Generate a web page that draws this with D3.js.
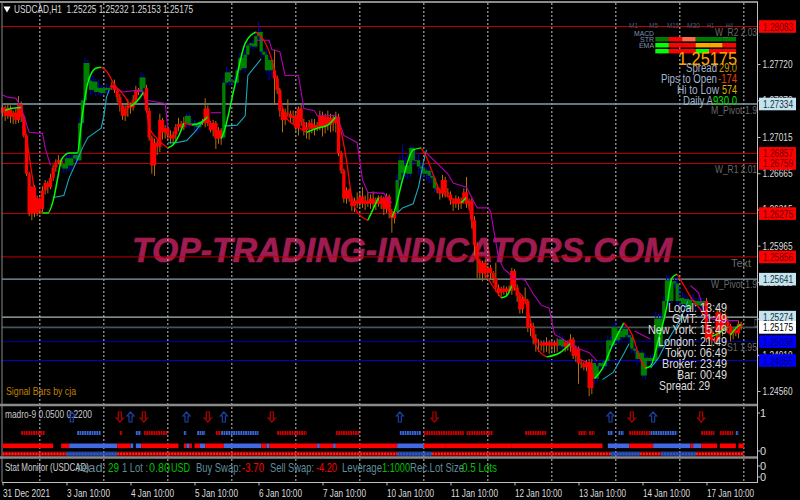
<!DOCTYPE html>
<html><head><meta charset="utf-8">
<script src="https://cdn.jsdelivr.net/npm/d3@7"></script>
<style>html,body{margin:0;padding:0;background:#000}svg{display:block}text{font-family:"Liberation Sans Narrow","Liberation Sans",Arial,sans-serif}</style>
</head><body><div id="chart"></div>
<script>
// ---- DATA (prices in pips: 12772 = 1.2772) ----
const firstOpen = 12725;
const closes = [
12730,12722,12729,12721,12725,12718,12733,12721,12703,12666,12628,12653,12628,12642,
12632,12650,12657,12653,12662,12672,12677,12679,12676,12671,12681,12674,12681,12684,12679,12715,12737,12773,12756,12747,12755,12745,12749,12744,12749,12747,12749,12752,12747,12740,12732,12722,12729,12732,12730,12737,12747,12745,12759,12749,12727,12701,12674,12696,12692,12718,12706,12710,12703,12700,12704,12711,12714,12711,12715,12722,12714,12715,12713,12711,12716,12715,12729,12715,12708,12715,12700,12708,12701,12754,12764,12755,12756,12754,12766,12778,12768,12781,12790,12792,12789,12799,12803,12784,12781,12766,12776,
12766,12758,12747,12727,12718,12725,12724,12720,12722,12710,12729,12716,12708,12711,12715,12709,12713,12711,12722,12711,12721,12713,12720,12715,12721,12686,12669,12642,12650,12642,12635,12640,12637,12644,12637,12640,12637,12642,12637,12640,12637,12642,12632,12644,12630,12623,12629,12660,12679,12667,12674,12666,12691,12679,12679,12673,12671,12666,12669,12664,12662,12652,12650,12647,12660,12648,12646,12640,12637,12642,12637,12640,12648,12637,12640,12621,12597,12582,12570,12580,12570,12575,12570,12565,12556,12551,12555,12552,12555,12553,12572,12556,12548,12535,12545,12543,12517,12519,12507,12503,12502,12500,12503,12500,12503,12500,12503,12500,12506,12499,12503,12499,12506,12490,12497,12483,12482,12479,12484,12459,12483,12468,12480,12483,12480,12485,12505,12500,12518,12505,12514,12508,12516,12510,12508,12497,12495,12487,12493,12471,12488,12485,12488,12485,12526,12498,12526,12543,12563,12543,12562,12560,12543,12546,12540,12545,12535,12544,12543,12539,12543,12538,12543,12507,12514,12505,12505,12532,12514,12529,12523,12519,12512,12515,12512,12521,12519];
const wickUp = [
3,2,4,3,2,4,8,3,2,1,2,1,2,3,1,4,3,2,4,3,3,5,2,3,
6,3,5,4,3,5,2,5,3,4,6,3,8,3,2,4,2,3,5,2,3,2,3,6,
3,5,4,2,5,3,3,3,2,4,3,6,2,3,2,5,3,3,6,3,6,2,3,4,
3,2,2,3,10,3,2,3,2,3,2,4,5,3,2,4,3,5,3,5,3,2,3,4,
10,2,3,4,2,3,20,3,2,3,4,13,3,5,4,2,4,3,5,3,4,6,3,5,
4,3,6,4,3,5,3,2,2,3,2,2,3,8,4,9,5,8,4,7,3,5,3,2,
3,2,2,3,6,5,15,8,12,2,2,9,7,4,5,3,4,6,3,4,2,5,3,4,
3,2,3,2,3,4,15,2,3,4,3,2,2,3,2,3,2,15,3,2,3,2,3,3,
2,3,2,3,11,2,3,3,4,3,3,2,5,2,3,2,4,6,3,2,2,5,2,3,
2,3,2,2,3,4,3,2,3,3,2,5,4,3,6,3,2,5,3,4,2,3,3,2,
3,4,2,3,4,7,5,6,4,5,4,3,3,6,12,5,4,3,5,6,3,4,3,3,
3,2,4,3,4,3,2,3,3,2,2,3,3,2];
const wickDown = [
4,5,3,6,7,4,3,5,2,2,3,7,4,3,5,3,4,6,2,3,4,2,3,4,
3,5,6,3,4,2,3,2,3,5,2,4,3,3,2,3,4,2,3,5,6,4,5,8,
6,3,2,3,3,4,2,3,8,10,8,5,7,6,4,5,6,8,4,3,3,5,4,2,
5,6,3,2,4,3,2,6,10,5,7,3,2,3,4,2,2,3,2,4,2,3,3,2,
3,4,2,3,10,7,25,4,6,12,5,3,4,6,3,7,4,5,8,12,4,6,4,3,
9,6,5,7,8,9,3,3,4,5,3,5,6,4,3,4,6,3,5,4,6,3,5,6,
4,7,14,5,3,4,3,5,6,3,5,4,8,4,5,6,7,5,4,3,6,4,5,3,
4,7,4,6,5,3,4,6,8,10,17,6,8,5,4,6,5,4,3,5,3,4,2,4,
3,6,4,4,3,4,8,6,9,8,5,7,6,8,5,7,6,4,3,5,4,5,3,6,
20,4,3,4,8,6,5,3,2,4,3,5,2,3,4,3,3,2,3,4,5,3,6,4,
2,4,3,5,3,4,3,2,3,3,4,3,5,4,6,3,4,5,3,4,5,3,4,3,
4,3,6,3,5,8,5,4,7,8,6,3,5,4];
const upBarRuns = [[23,40],[52,53],[69,74],[83,101],[148,162],[209,210],[222,263]];

const fastBars = [1,3,7,9,11,13,15,17,19,21,22,25,28,30,32,35,37,39,42,46,48,50,53,54,55,58,62,64,67,68,71,74,77,79,82,83,87,91,95,98,100,101,103,105,107,111,114,118,122,125,126,129,131,133,137,139,141,143,145,146,147,150,154,157,159,162,164,168,172,174,175,176,178,182,187,189,191,193,196,198,199,200,204,209,213,216,220,221,222,225,229,233,236,239,241,243,246,249,251,253,256,259,262,266,268,271,273,276,277];
const fastPips = [12727,12729,12730,12701,12666,12637,12628,12628,12640,12666,12679,12686,12686,12724,12754,12768,12769,12765,12752,12740,12731,12735,12745,12730,12711,12700,12691,12694,12708,12715,12713,12715,12721,12710,12700,12706,12750,12792,12803,12795,12784,12776,12754,12730,12718,12711,12706,12710,12713,12721,12716,12679,12643,12629,12621,12632,12643,12642,12630,12624,12630,12660,12689,12691,12682,12662,12650,12643,12638,12643,12633,12621,12585,12565,12546,12548,12558,12553,12543,12524,12511,12500,12489,12493,12502,12488,12482,12475,12468,12478,12502,12522,12511,12488,12478,12480,12506,12536,12565,12569,12556,12543,12534,12509,12511,12517,12510,12519,12520];

const magentaBars = [
 [0,2,5,7,10,15,16,18],
 [42,45,52,54,61,62],
 [78,82],
 [95,100,101,104,106,111,113,117,118,125,126,128,133,135,137,143,145,146],
 [159,163,167,169,174,178,182,183,186,188,192,196,199,202,205,207,216,220,223],
 [237,243],
 [258,261,264,269,276]];
const magentaPips = [
 [12742,12740,12739,12730,12706,12705,12691,12674],
 [12750,12745,12747,12737,12734,12710],
 [12725,12725],
 [12795,12795,12786,12784,12761,12761,12729,12727,12722,12722,12718,12703,12696,12660,12648,12647,12640,12638],
 [12686,12676,12666,12657,12653,12633,12633,12630,12585,12574,12565,12563,12550,12539,12536,12511,12497,12493,12485],
 [12514,12506],
 [12558,12551,12527,12524,12524]];
const cyanBars = [
 [19,23,25,28,30,32,37,38,39,40],
 [62,65,69,72,75],
 [83,88,91,92,97],
 [148,150,154,156,158,159],
 [225,229,233,235],
 [243,246,249,254,257]];
const cyanPips = [
 [12643,12645,12662,12679,12691,12701,12710,12722,12740,12747],
 [12696,12696,12698,12706,12716],
 [12712,12713,12722,12761,12777],
 [12628,12633,12637,12653,12679,12689],
 [12467,12474,12492,12502],
 [12478,12488,12503,12524,12543]];

const redLevels = [1.28083,1.26857,1.26759,1.26275,1.25856];
const pivotLevels = [1.27334,1.25641];
const supportLevels = [1.25038,1.24855];
const resistanceLight = 1.25274;
const bidLevel = 1.25175;
const priceTicks = [1.27720,1.27370,1.27015,1.26665,1.26315,1.25965,1.25615,1.25260,1.24910,1.24560];
const timeTickBars = [0,24,48,72,96,120,144,168,192,216,240,264];
const timeTickLabels = ["31 Dec 2021","3 Jan 10:00","4 Jan 10:00","5 Jan 10:00","6 Jan 10:00","7 Jan 10:00","10 Jan 10:00","11 Jan 10:00","12 Jan 10:00","13 Jan 10:00","14 Jan 10:00","17 Jan 10:00"];
const timeTickWidths = [47,43,43,43,43,43,47,47,47,47,47,47];
const daySeparatorBars = [14,38,62,86,110,134,158,182,206,230,254,278];

const arrowBars = [26,44,48,53,69,77,83,101,149,162,228,236,244,262];
const arrowDirs = ["u","d","u","d","u","d","u","d","u","d","u","d","u","d"];
const dotRuns = [[7,16,"r"],[28,37,"b"],[44,45,"r"],[50,52,"b"],[53,62,"r"],[68,69,"b"],[73,76,"b"],[80,82,"r"],[82,96,"b"],[103,114,"r"],[125,134,"r"],[149,157,"b"],[158,173,"r"],[174,184,"r"],[196,204,"r"],[216,219,"r"],[220,222,"r"],[227,229,"b"],[231,233,"b"],[235,243,"r"],[243,253,"b"],[262,267,"r"],[269,274,"r"],[275,276,"b"]];
const solidRuns = [[0,19,"r"],[22,25,"r"],[25,43,"b"],[43,48,"r"],[48,49,"b"],[50,52,"b"],[52,66,"r"],[68,69,"r"],[69,70,"b"],[70,71,"r"],[72,74,"r"],[74,76,"b"],[76,83,"r"],[83,97,"b"],[97,99,"r"],[99,100,"b"],[100,118,"r"],[118,119,"b"],[119,124,"r"],[124,125,"b"],[125,148,"r"],[148,158,"b"],[158,166,"r"],[166,191,"r"],[191,225,"r"],[227,235,"b"],[235,244,"r"],[244,258,"b"],[258,259,"r"],[259,262,"b"],[262,268,"r"],[269,275,"r"],[276,278,"r"]];
const hatchRuns = [[0,24,"r"],[24,43,"b"],[43,148,"r"],[148,161,"b"],[161,228,"r"],[228,239,"b"],[239,247,"r"],[247,260,"b"],[260,278,"r"]];

const headerText = "USDCAD,H1  1.25225 1.25232 1.25153 1.25175";
const tfLabels = ["M1","M5","M15","M30","H1","H4"];
const rowLabels = ["MACD","STR","EMA"];
const cellColors = [
 ["#007a00","#ff0000","#ff6a4d","#007a00","#007a00","#007a00"],
 ["#00ff00","#ff0000","#ff0000","#ffa500","#ffa500","#ff0000"],
 ["#00ff00","#ff0000","#ff0000","#00ff00","#ff0000","#ff0000"]];
const clockLabels = ["Local: 13:49","GMT: 21:49","New York: 15:49","London: 21:49","Tokyo: 06:49","Broker: 23:49","Bar: 00:49","Spread: 29"];
const infoLabels = ["Spread","29.0","Pips to Open","-174","Hi to Low","574","Daily A","930.0"];
const statLabels = ["read:","29","1 Lot :","0.80","USD","Buy Swap:","-3.70","Sell Swap:","-4.20","Leverage","1:1000","Rec.Lot Size","0.5 Lots"];
const pivotNames = ["W_R2 2.03","M_Pivot 1.9","W_R1 2.01","Text","W_Pivot 1.9","D","S1 1.95"];

// ---- LAYOUT ----
const W=800,H=500;
const svg=d3.select("#chart").append("svg").attr("width",W).attr("height",H).style("background","#000");
const x=d3.scaleLinear().domain([0,24]).range([2.5,66.5]);
const y=d3.scaleLinear().domain([1.28083,1.24855]).range([26.5,360.5]);
const yp=p=>y(p/10000);
const bw=3.3;
const isUp=i=>upBarRuns.some(r=>i>=r[0]&&i<=r[1]);
const bars=closes.map((c,i)=>{const o=i?closes[i-1]:firstOpen;const t=Math.max(o,c),b=Math.min(o,c);
  return {i,top:t,bot:b,hi:t+wickUp[i],lo:b-wickDown[i],up:isUp(i)};});

function fit(sel,len){return sel.attr("textLength",len).attr("lengthAdjust","spacingAndGlyphs");}
function label(g,s,px,py,len,size,col,anchor){
  const t=g.append("text").attr("x",px).attr("y",py).attr("font-size",size).attr("fill",col).text(s);
  if(anchor)t.attr("text-anchor",anchor);
  if(len)fit(t,len);
  return t;
}

// watermark
fit(svg.append("text").attr("x",132).attr("y",262).attr("font-size",35).attr("font-weight","bold")
  .attr("font-style","italic").attr("fill","#a01c50").attr("stroke","#a01c50").attr("stroke-width",0.7)
  .style("font-family",'"Liberation Sans",Arial,sans-serif').text("TOP-TRADING-INDICATORS.COM"),540);

// day separators
svg.append("g").selectAll("line").data(daySeparatorBars).join("line")
  .attr("x1",d=>x(d)).attr("x2",d=>x(d)).attr("y1",3).attr("y2",482)
  .attr("stroke","#c8c8c8").attr("stroke-dasharray","2 2");

// horizontal levels
const levels=svg.append("g");
function hline(p,col,w){levels.append("line").attr("x1",2).attr("x2",757).attr("y1",y(p)).attr("y2",y(p)).attr("stroke",col).attr("stroke-width",w);}
redLevels.forEach(p=>hline(p,"#c00000",1));
pivotLevels.forEach(p=>hline(p,"#84a0a8",1.3));
hline(resistanceLight,"#a8b8bc",1.3);
hline(bidLevel,"#46545a",1.8);
hline(supportLevels[0],"#000090",1.2);
hline(supportLevels[1],"#0000d0",1.2);

// candles
const cg=svg.append("g");
cg.selectAll("line.w").data(bars).join("line").attr("class","w")
  .attr("x1",d=>x(d.i)).attr("x2",d=>x(d.i)).attr("y1",d=>yp(d.hi)).attr("y2",d=>yp(d.lo))
  .attr("stroke",d=>d.up?"#0000c8":"#b86c08").attr("stroke-width",1);
cg.selectAll("rect").data(bars).join("rect")
  .attr("x",d=>x(d.i)-bw/2).attr("width",bw)
  .attr("y",d=>yp(d.top)).attr("height",d=>Math.max(1,yp(d.bot)-yp(d.top)))
  .attr("fill",d=>d.up?"#008000":"#ff0000");

// envelope lines
const pathLine=d3.line().x(d=>x(d[0])).y(d=>yp(d[1]));
const stepG=svg.append("g").attr("fill","none");
magentaBars.forEach((b,k)=>stepG.append("path").attr("d",pathLine(b.map((v,j)=>[v,magentaPips[k][j]]))).attr("stroke","#b400b4").attr("stroke-width",1.1));
cyanBars.forEach((b,k)=>stepG.append("path").attr("d",pathLine(b.map((v,j)=>[v,cyanPips[k][j]]))).attr("stroke","#18a8b8").attr("stroke-width",1.1));

// fast line, split by direction
const fastLine=d3.line().x(d=>x(d[0])).y(d=>yp(d[1])).curve(d3.curveMonotoneX);
const fastG=svg.append("g").attr("fill","none");
let run=[[fastBars[0],fastPips[0]]],dir=null;
function flush(){ if(run.length>1) fastG.append("path").attr("d",fastLine(run)).attr("stroke",dir>=0?"#00ff00":"#ff0000").attr("stroke-width",dir>=0?1.5:1.3); }
for(let j=1;j<fastBars.length;j++){
  const d=fastPips[j]>=fastPips[j-1]?1:-1;
  if(dir!==null&&d!==dir){flush();run=[run[run.length-1]];}
  dir=d;run.push([fastBars[j],fastPips[j]]);
}
flush();

// multi-timeframe table
const tf=svg.append("g");
const tfX=[629,649,667,687,707,726],tfW=[9,9,12,13,7,7];
tfLabels.forEach((s,k)=>label(tf,s,tfX[k],28,tfW[k],7.5,"#465878"));
const cellY=[37,43,49];
rowLabels.forEach((s,k)=>label(tf,s,654,[36,41.5,47.5][k],[20,14,15][k],8,"#8090b0","end"));
cellColors.forEach((row,r)=>row.forEach((c,k)=>tf.append("rect").attr("x",655.3+k*13.45).attr("y",cellY[r]).attr("width",13.6).attr("height",4.4).attr("fill",c)));
label(tf,"1.25175",678,65,59,19,"#ffa500");
const infoPos=[[686,72,31,"#a0b4cc"],[719,72,18,"#c89600"],[661,83,56,"#a0b4cc"],[718,83,19,"#e04000"],[677,94,42,"#a0b4cc"],[722,94,15,"#e0b000"],[683,105,30,"#a0b4cc"],[713,105,24,"#00e000"]];
infoLabels.forEach((s,k)=>label(tf,s,infoPos[k][0],infoPos[k][1],infoPos[k][2],12,infoPos[k][3]));
const pvPos=[[715,36,42],[711,114,46],[715,173,42],[731,267,20],[711,288,46],[754,327,4],[727,351,30]];
pivotNames.forEach((s,k)=>label(tf,s,pvPos[k][0],pvPos[k][1],pvPos[k][2],11.5,"#686868"));

// clock block
const clockX=[668,672,648,658,665,662,677,659],clockLen=[59,55,79,69,62,65,50,51],clockY=[312,323,334,346,357,368,379,390];
clockLabels.forEach((s,k)=>label(svg,s,clockX[k],clockY[k],clockLen[k],13,"#dcdcdc"));

label(svg,"Signal Bars by cja",6,395,70,11,"#c08000");

// panel frame
const frame=svg.append("g");
function fr(x1,y1,x2,y2,c,w){frame.append("line").attr("x1",x1).attr("y1",y1).attr("x2",x2).attr("y2",y2).attr("stroke",c).attr("stroke-width",w);}
fr(0,2,758,2,"#8a8a8a",2);
fr(2,2,2,482,"#8a8a8a",1);
fr(0,405,758,405,"#8a8a8a",2.4);
fr(0,457.5,758,457.5,"#8a8a8a",2.4);
fr(2,482.5,758,482.5,"#c0c0c0",1);
fr(757.5,2,757.5,482,"#c0c0c0",1);

// header
svg.append("path").attr("d",d3.symbol(d3.symbolTriangle,22)()).attr("transform","translate(7,8.5) rotate(180)").attr("fill","#fff");
label(svg,headerText,14,13,179,11.5,"#d8d8d8").attr("xml:space","preserve").style("white-space","pre");

// price axis
const yAxis=d3.axisRight(y).tickValues(priceTicks).tickSize(3).tickFormat(d3.format(".5f"));
const ya=svg.append("g").attr("transform","translate(757.5,0)").call(yAxis);
ya.select(".domain").remove();
ya.selectAll("line").attr("stroke","#c0c0c0");
ya.selectAll("text").attr("font-size",10.5).attr("fill","#dcdcdc").attr("x",5).attr("textLength",30).attr("lengthAdjust","spacingAndGlyphs");

// level tags
const tags=svg.append("g");
function tag(p,bg,fg){
  tags.append("rect").attr("x",759).attr("y",y(p)-6.3).attr("width",37).attr("height",12.6).attr("fill",bg);
  fit(tags.append("text").attr("x",763).attr("y",y(p)+4).attr("font-size",10.5).attr("fill",fg).text(d3.format(".5f")(p)),30);
}
tag(redLevels[0],"#ff0000","#6a0000");
tag(pivotLevels[0],"#c4e4f0","#203038");
tag(redLevels[1],"#ff0000","#6a0000");
tag(redLevels[2],"#ff0000","#6a0000");
tag(redLevels[3],"#ff0000","#6a0000");
tag(redLevels[4],"#ff0000","#6a0000");
tag(pivotLevels[1],"#c4e4f0","#203038");
tag(resistanceLight,"#c4e4f0","#203038");
tag(bidLevel,"#ffffff","#000000");
tag(supportLevels[0],"#0000ff","#000070");
tag(supportLevels[1],"#0000ff","#000070");

// madro panel
const mp=svg.append("g");
label(mp,"madro-9 0.0500 0.2200",5,418,87,11,"#c8c8c8");
const colorOf={r:"#ff0000",b:"#4169e1"}, dotColor={r:"#d00000",b:"#3a66d8"};
function arrow(bar,dir){
  const cx=x(bar),s=dir==="u"?1:-1,cy=417;
  const pts=[[0,-5],[3.5,-1],[1.5,-1],[1.5,5],[-1.5,5],[-1.5,-1],[-3.5,-1]];
  mp.append("path").attr("d",d3.line()(pts.map(p=>[cx+p[0],cy+s*p[1]]))+"Z").attr("fill","none")
    .attr("stroke",dir==="u"?"#1c3fa0":"#b00000").attr("stroke-width",1.2);
}
arrowBars.forEach((b,k)=>arrow(b,arrowDirs[k]));
mp.selectAll("line.dot").data(dotRuns).join("line").attr("class","dot")
  .attr("x1",d=>x(d[0])).attr("x2",d=>x(d[1])).attr("y1",433).attr("y2",433)
  .attr("stroke",d=>dotColor[d[2]]).attr("stroke-width",3.8).attr("stroke-dasharray","1.8 0.6");
mp.selectAll("rect.solid").data(solidRuns).join("rect").attr("class","solid")
  .attr("x",d=>x(d[0])).attr("width",d=>x(d[1])-x(d[0])).attr("y",443.5).attr("height",4.6)
  .attr("fill",d=>colorOf[d[2]]);
mp.selectAll("rect.hatch").data(hatchRuns).join("rect").attr("class","hatch")
  .attr("x",d=>x(d[0])).attr("width",d=>x(d[1])-x(d[0])).attr("y",451.5).attr("height",4.6)
  .attr("fill",d=>colorOf[d[2]]).attr("opacity",0.55);
mp.selectAll("line.hatchdots").data(hatchRuns).join("line").attr("class","hatchdots")
  .attr("x1",d=>x(d[0])).attr("x2",d=>x(d[1])).attr("y1",453.8).attr("y2",453.8)
  .attr("stroke",d=>d[2]==="r"?"#ff2020":"#2a58d8").attr("stroke-width",2.4).attr("stroke-dasharray","2 1");

// stat monitor
const sg=svg.append("g");
label(sg,"Stat Monitor (USDCAD)",5,471,84,11,"#d0d0d0");
const statX=[77,108,122,149,171,196,242,270,316,342,382,410,462],statW=[29,11,26,21,19,45,22,44,21,40,28,54,35];
const statC=["#5f8c9c","#00c000","#5f8c9c","#00c000","#00c000","#5f8c9c","#ff0000","#5f8c9c","#ff0000","#5f8c9c","#00c000","#5f8c9c","#00c000"];
statLabels.forEach((s,k)=>label(sg,s,statX[k],472,statW[k],13,statC[k]));

// small right-hand axes
const sideVals=[["1",417],["0",455],["0",470],["0",481]];
sideVals.forEach(d=>{label(svg,d[0],760,d[1],0,11,"#dcdcdc");
  svg.append("line").attr("x1",757.5).attr("x2",760).attr("y1",d[1]-4).attr("y2",d[1]-4).attr("stroke","#c0c0c0");});

// time axis
const xAxis=d3.axisBottom(x).tickValues(timeTickBars).tickSize(3).tickFormat((d,i)=>timeTickLabels[i]);
const xa=svg.append("g").attr("transform","translate(0,482.5)").call(xAxis);
xa.select(".domain").remove();
xa.selectAll("line").attr("stroke","#c0c0c0");
xa.selectAll("text").attr("font-size",11.5).attr("fill","#dcdcdc").attr("text-anchor","start")
  .attr("y",5).attr("dy","0.85em")
  .each(function(d,i){fit(d3.select(this),timeTickWidths[i]);});
</script></body></html>
